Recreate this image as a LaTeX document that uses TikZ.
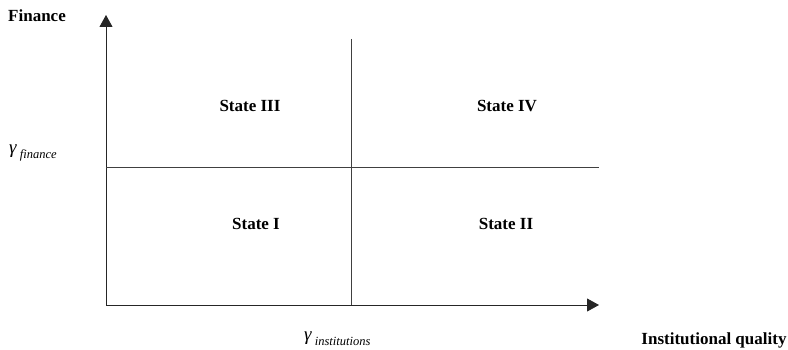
\documentclass[tikz,border=0pt]{standalone}
\usepackage{fontspec}
\setmainfont{Liberation Serif}
\usetikzlibrary{positioning,arrows.meta}

\begin{document}
\begin{tikzpicture}[x=1pt, y=1pt,
    font=\fontsize{17}{20}\selectfont\bfseries,
    estado/.style={inner sep=0pt, anchor=base},
    rotulo/.style={inner sep=0pt},
    limiar/.style={inner sep=0pt, anchor=base west,
                   font=\fontsize{19}{20}\selectfont\itshape},
    eixo/.style={-{Triangle[length=12pt, width=13pt]}, line width=0.8pt, black!85},
    linha/.style={line width=0.8pt, black!75}
  ]
  \useasboundingbox (0,0) rectangle (788,349);

  % eixos e limiares
  \coordinate (o) at (106,44);
  \coordinate (xfim) at (599,44);
  \coordinate (yfim) at (106,334);
  \coordinate (h0) at (106,182);
  \coordinate (h1) at (599,182);
  \coordinate (v0) at (351,310);
  \coordinate (v1) at (351,44);

  \draw[eixo] (o) -- (xfim);
  \draw[eixo] (o) -- (yfim);
  \draw[linha] (h0) -- (h1);
  \draw[linha] (v0) -- (v1);

  % rotulos dos eixos
  \node[rotulo, anchor=base west] (fin) at (8,327) {Finance};
  \node[rotulo, anchor=base] (inst) at (714,5) {Institutional quality};
  \node[limiar] (gfin) at (9,196)
    {γ\raisebox{-5pt}{\fontsize{12.5}{14}\selectfont\ finance}};
  \node[limiar] (ginst) at (304,9)
    {γ\raisebox{-5pt}{\fontsize{12.5}{14}\selectfont\ institutions}};

  % estados
  \node[estado] (s3) at (250,237) {State III};
  \node[estado] (s4) at (507,237) {State IV};
  \node[estado] (s1) at (256,120) {State I};
  \node[estado] (s2) at (506,120) {State II};
\end{tikzpicture}
\end{document}
